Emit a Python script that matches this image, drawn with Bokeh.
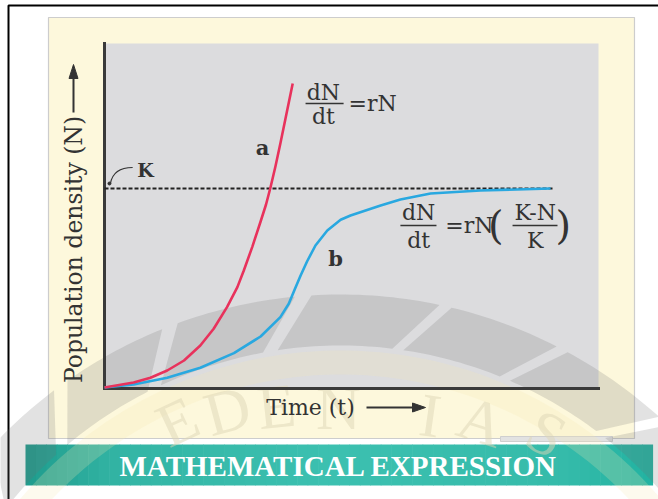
import numpy as np
from bokeh.plotting import figure
from bokeh.models import Range1d
from bokeh.core.properties import value
from bokeh.embed import file_html
from bokeh.resources import INLINE

# ---- data: population density N against time t ----
# a: exponential growth
t_exp = [0, 0.59, 0.93, 1.27, 1.61, 1.94, 2.21, 2.48, 2.69, 2.82, 2.99, 3.16,
         3.27, 3.36, 3.46, 3.56, 3.66, 3.81]
n_exp = [0.5, 3, 5.4, 9, 14, 21.5, 29.9, 40.7, 50.7, 59, 70.7, 83.5,
         92, 100.5, 111, 122.5, 134.5, 152.5]
# b: logistic growth
t_log = [0, 0.59, 1.27, 1.94, 2.62, 3.16, 3.56, 3.73, 3.85, 3.97, 4.10, 4.27,
         4.51, 4.78, 4.98, 5.59, 5.99, 6.60, 7.61, 9.03]
n_log = [0.5, 2, 5.4, 10.4, 17.7, 26, 35.7, 42.4, 49.5, 56.5, 63.5, 71.5,
         79, 84.4, 86.5, 91.5, 94.5, 97.5, 99, 100]

carrying_capacity = 100
k_line_t = [0, 9.07]
t_max = 10
n_max = 172.5

x_title = "Time (t)"
y_title = "Population density (N)"
banner_title = "MATHEMATICAL EXPRESSION"
logo_letters = ["E", "D", "E", "N", "I", "A", "S"]

# ---- page geometry (pixels, origin top-left) ----
W, H = 658, 499
FL, FR, FT, FB = 104, 598, 43, 388   # plot area edges
px_per_t = (FR - FL) / t_max
px_per_n = (FB - FT) / n_max

SERIF = "DejaVu Serif"
INK = "#333333"

# The canvas is addressed in page pixels (y downwards); the chart data lives
# on the extra ranges "t" and "n", positioned over the plot area.
p = figure(width=W, height=H, x_range=Range1d(0, W), y_range=Range1d(H, 0),
           output_backend="svg", toolbar_location=None, min_border=0,
           x_axis_location=None, y_axis_location=None)
p.extra_x_ranges = {"t": Range1d(-FL / px_per_t, (W - FL) / px_per_t)}
p.extra_y_ranges = {"n": Range1d(-(H - FB) / px_per_n, FB / px_per_n)}
p.outline_line_color = None
p.grid.visible = False
p.border_fill_color = "white"
p.background_fill_color = "white"
D = dict(x_range_name="t", y_range_name="n")

# ---- page decoration ----
p.quad(left=[8], right=[720], top=[5], bottom=[580], fill_alpha=0,
       line_color="black", line_width=2)
p.quad(left=[48], right=[634], top=[17], bottom=[438], fill_color="#fdf8dc",
       line_color="#cdcdcd", line_width=1.2)
p.quad(left=[500], right=[612], top=[436], bottom=[441], fill_color="#e2e2e2",
       line_color="#cfcfcf", line_width=1)
p.quad(left=[0], right=[t_max], bottom=[0], top=[n_max], fill_color="#dcdcde",
       line_color=None, **D)

# banner with a soft horizontal gradient
stops_x = [25, 120, 330, 560, 652]
stops_c = [(0x1f, 0x9c, 0x8d), (0x33, 0xb5, 0xa5), (0x3c, 0xc0, 0xb0),
           (0x36, 0xbb, 0xaa), (0x22, 0xb3, 0xa1)]
edges = np.linspace(25, 652, 61)
mids = 0.5 * (edges[:-1] + edges[1:])
cols = ["#%02x%02x%02x" % tuple(int(round(np.interp(m, stops_x, [c[i] for c in stops_c])))
                                for i in range(3)) for m in mids]
p.quad(left=edges[:-1], right=edges[1:] + 0.6, top=444, bottom=485,
       fill_color=cols, line_color=None)

# ---- faint logo watermark: ring of slanted petals and an arc of letters ----
cx, cy = 340, 770
r_in, r_out = 425, 476
petals = [(-47, -37), (-35, -22), (-20, -5.5), (-3.5, 12), (13.5, 27), (28.5, 42), (43.5, 56)]
pxs, pys = [], []
for a0, a1 in petals:
    ao = np.radians(np.linspace(a0, a1, 20))
    ai = np.radians(np.linspace(a1 - 5, a0 - 5, 20))
    pxs.append(np.concatenate([cx + r_out * np.sin(ao), cx + r_in * np.sin(ai)]))
    pys.append(np.concatenate([cy - r_out * np.cos(ao), cy - r_in * np.cos(ai)]))
p.patches(pxs, pys, fill_color="#6f6f6f", fill_alpha=0.2, line_color=None)

band_o = np.radians(np.linspace(-60, 60, 80))
band_i = band_o[::-1]
p.patch(np.concatenate([cx + 420 * np.sin(band_o), cx + 396 * np.sin(band_i)]),
        np.concatenate([cy - 420 * np.cos(band_o), cy - 396 * np.cos(band_i)]),
        fill_color="#f6e9b0", fill_alpha=0.22, line_color=None)

letter_x = [177, 227, 276, 338, 430, 481, 546]
letter_y = [421, 410, 406, 407, 415, 421, 433]
letter_rot = np.radians([25, 15, 6, 0, -8, -18, -28])
p.text(letter_x, letter_y, logo_letters, angle=letter_rot,
       text_align="center", text_baseline="middle",
       text_font=value("Liberation Serif"), text_font_size="62px",
       text_color="#ddd5b6", text_alpha=0.5)

# ---- axes lines (no ticks) ----
p.segment(x0=[0, 0], y0=[0, 0], x1=[t_max, 0], y1=[0, n_max], line_color="#3a3a3a",
          line_width=3, line_cap="square", **D)

# axis titles with arrows
p.text([310], [407], [x_title], text_align="center", text_baseline="middle",
       text_font=value(SERIF), text_font_size="22px", text_color=INK)
p.text([73], [249], [y_title], angle=np.pi / 2, text_align="center",
       text_baseline="middle", text_font=value(SERIF), text_font_size="23.5px",
       text_color=INK)
p.segment(x0=[366, 73], y0=[407, 112], x1=[414, 73], y1=[407, 76],
          line_color=INK, line_width=2)
p.patches([[412, 412, 425], [68.5, 77.5, 73]], [[402.5, 411.5, 407], [78, 78, 64]],
          fill_color=INK, line_color=INK)

# ---- curves ----
p.line(k_line_t, [carrying_capacity] * 2, line_color="#222222", line_width=2,
       line_dash="4 2", **D)
p.line(t_log, n_log, line_color="#29a8e0", line_width=2.6, line_join="round", **D)
p.line(t_exp, n_exp, line_color="#e8325c", line_width=2.6, line_join="round", **D)

# K marker with a short curved leader
p.bezier(x0=[0.12], y0=[102.5], x1=[0.57], y1=[110.5], cx0=[0.16], cy0=[108],
         cx1=[0.32], cy1=[110.5], line_color=INK, line_width=1.2, **D)
p.scatter([0.1], [102.5], size=3, color=INK, **D)


def txt(x, y, s, size="22px", style="normal", align="center"):
    p.text([x], [y], [s], text_align=align, text_baseline="middle",
           text_font=value(SERIF), text_font_size=size, text_font_style=style,
           text_color=INK, **D)


txt(0.83, 109.5, "K", "19px", "bold")
txt(3.20, 120.5, "a", "21px", "bold")
txt(4.68, 65, "b", "21px", "bold")

# dN/dt = rN
txt(4.43, 148, "dN")
txt(4.43, 136, "dt")
p.segment(x0=[4.07], y0=[142.5], x1=[4.84], y1=[142.5], line_color=INK, line_width=1.5, **D)
txt(4.94, 142.5, "=rN", align="left")

# dN/dt = rN (K-N)/K
txt(6.36, 88, "dN")
txt(6.36, 74, "dt")
p.segment(x0=[5.99, 8.26], y0=[81.5, 81.5], x1=[6.72, 9.17], y1=[81.5, 81.5],
          line_color=INK, line_width=1.5, **D)
txt(6.90, 81.5, "=rN", align="left")
txt(7.92, 82, "(", "40px")
txt(8.72, 88, "K-N")
txt(8.72, 74, "K")
txt(9.29, 82, ")", "40px")

# banner caption
p.text([338], [465], [banner_title], text_align="center", text_baseline="middle",
       text_font=value("Liberation Serif"), text_font_style="bold",
       text_font_size="29px", text_color="white")

open("out.html", "w").write(file_html(p, INLINE))
